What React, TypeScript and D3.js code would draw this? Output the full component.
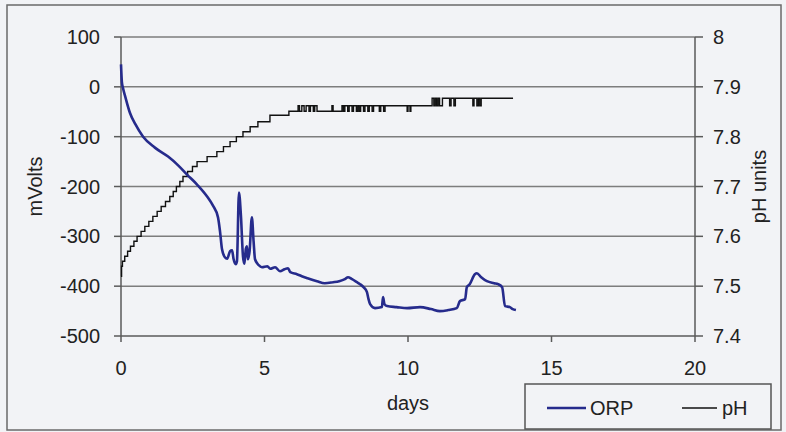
import * as d3 from 'd3';
import React from 'react';

// ORP readings (mV) against elapsed days
const orpDays = [
  0, 0.03, 0.06, 0.15, 0.31, 0.5, 0.77, 1.18, 1.64, 2.0, 2.3, 2.65, 3.0, 3.2, 3.38, 3.45, 3.52,
  3.62, 3.7, 3.8, 3.87, 3.92, 4.0, 4.04, 4.11, 4.18, 4.25, 4.3, 4.35, 4.39, 4.42, 4.48, 4.56,
  4.62, 4.67, 4.8, 4.91, 5.1, 5.2, 5.37, 5.54, 5.7, 5.82, 5.9, 6.13, 6.3, 6.5, 6.83, 7.1, 7.39,
  7.6, 7.8, 7.91, 8.05, 8.22, 8.33, 8.45, 8.57, 8.62, 8.68, 8.85, 9.09, 9.13, 9.18, 9.27, 9.6,
  9.97, 10.42, 10.8, 11.11, 11.4, 11.7, 11.81, 11.99, 12.05, 12.15, 12.33, 12.4, 12.55, 12.75,
  13.0, 13.14, 13.28, 13.38, 13.55, 13.65, 13.76,
];
const orpValues = [
  45, 10, 0, -20, -52, -75, -100, -122, -140, -158, -176, -196, -220, -238, -262, -290, -326,
  -342, -345, -330, -328, -345, -356, -350, -212, -260, -340, -355, -325, -320, -346, -330, -262,
  -310, -346, -358, -362, -360, -365, -362, -370, -366, -364, -372, -376, -380, -384, -390, -394,
  -392, -390, -386, -382, -386, -392, -396, -402, -412, -425, -436, -444, -442, -422, -436, -440,
  -442, -444, -442, -446, -450, -448, -444, -430, -426, -402, -396, -376, -374, -382, -390, -394,
  -396, -402, -440, -442, -446, -448,
];

// pH readings (stepped, 0.01 resolution)
const phDays = [
  0, 0.02, 0.05, 0.13, 0.23, 0.33, 0.45, 0.56, 0.7, 0.83, 0.97, 1.11, 1.26, 1.4, 1.55, 1.7, 1.82,
  1.93, 2.05, 2.16, 2.32, 2.49, 2.65, 3.0, 3.34, 3.57, 3.8, 4.02, 4.25, 4.5, 4.77, 5.19, 5.85,
  6.17, 6.22, 6.3, 6.38, 6.45, 6.55, 6.6, 6.7, 6.75, 6.83, 7.35, 7.39, 7.7, 7.75, 7.8, 7.9, 7.95,
  8.05, 8.1, 8.2, 8.25, 8.3, 8.35, 8.45, 8.5, 8.6, 8.65, 8.75, 8.8, 9.0, 9.05, 9.15, 9.2, 9.97,
  10.0, 10.07, 10.1, 10.84, 10.9, 10.95, 11.0, 11.05, 11.1, 11.2, 11.45, 11.5, 11.6, 11.65, 12.26,
  12.3, 12.4, 12.45, 12.5, 12.55, 13.66,
];
const phValues = [
  7.52, 7.54, 7.55, 7.56, 7.57, 7.58, 7.59, 7.6, 7.61, 7.62, 7.63, 7.64, 7.65, 7.66, 7.67, 7.68,
  7.69, 7.7, 7.71, 7.72, 7.73, 7.74, 7.75, 7.76, 7.77, 7.78, 7.79, 7.8, 7.81, 7.82, 7.83, 7.843,
  7.851, 7.862, 7.851, 7.862, 7.851, 7.862, 7.851, 7.862, 7.851, 7.862, 7.851, 7.862, 7.851,
  7.862, 7.851, 7.862, 7.851, 7.862, 7.851, 7.862, 7.851, 7.862, 7.851, 7.862, 7.851, 7.862,
  7.851, 7.862, 7.851, 7.862, 7.851, 7.862, 7.851, 7.862, 7.851, 7.862, 7.851, 7.862, 7.877,
  7.862, 7.877, 7.862, 7.877, 7.862, 7.877, 7.862, 7.877, 7.862, 7.877, 7.862, 7.877, 7.862,
  7.877, 7.862, 7.877, 7.877,
];

const xTicks = [0, 5, 10, 15, 20];
const leftTicks = [100, 0, -100, -200, -300, -400, -500];
const rightTicks = [8, 7.9, 7.8, 7.7, 7.6, 7.5, 7.4];

const W = 786;
const H = 432;
const plot = { left: 121, right: 695, top: 37, bottom: 336 };
const font = '"Liberation Sans", Arial, sans-serif';
const orpColor = '#262b8c';
const gridColor = '#7d7d7d';
const axisColor = '#5a5a5a';

export default function App() {
  const x = d3.scaleLinear().domain([0, 20]).range([plot.left, plot.right]);
  const yL = d3.scaleLinear().domain([-500, 100]).range([plot.bottom, plot.top]);
  const yR = d3.scaleLinear().domain([7.4, 8]).range([plot.bottom, plot.top]);

  const orpLine = d3
    .line<number>()
    .x((d) => x(d))
    .y((_, i) => yL(orpValues[i]))
    .curve(d3.curveMonotoneX);
  const phLine = d3
    .line<number>()
    .x((d) => x(d))
    .y((_, i) => yR(phValues[i]))
    .curve(d3.curveStepAfter);

  return (
    <svg
      width={W}
      height={H}
      style={{ position: 'absolute', left: 0, top: 0 }}
      fontFamily={font}
    >
      <rect x={0} y={0} width={W} height={H} fill="#f2f3f6" />
      <rect x={7} y={5} width={774} height={425} fill="none" stroke="#6a6a6a" strokeWidth={1.5} />

      {/* grid */}
      {leftTicks.map((t) => (
        <line
          key={`g${t}`}
          x1={plot.left}
          x2={plot.right}
          y1={yL(t)}
          y2={yL(t)}
          stroke={t === -500 ? axisColor : gridColor}
          strokeWidth={1.5}
        />
      ))}

      {/* axes */}
      <line x1={plot.left} x2={plot.left} y1={plot.top} y2={plot.bottom} stroke={axisColor} strokeWidth={1.5} />
      <line x1={plot.right} x2={plot.right} y1={plot.top} y2={plot.bottom} stroke={axisColor} strokeWidth={1.5} />

      {leftTicks.map((t) => (
        <g key={`l${t}`}>
          <line x1={plot.left - 7} x2={plot.left} y1={yL(t)} y2={yL(t)} stroke={axisColor} strokeWidth={1.5} />
          <text x={100} y={yL(t)} dy="0.35em" textAnchor="end" fontSize={20} fill="#222">
            {t}
          </text>
        </g>
      ))}
      {rightTicks.map((t) => (
        <g key={`r${t}`}>
          <line x1={plot.right} x2={plot.right + 8} y1={yR(t)} y2={yR(t)} stroke={axisColor} strokeWidth={1.5} />
          <text x={713} y={yR(t)} dy="0.35em" textAnchor="start" fontSize={20} fill="#222">
            {t}
          </text>
        </g>
      ))}
      {xTicks.map((t) => (
        <g key={`x${t}`}>
          <line x1={x(t)} x2={x(t)} y1={plot.bottom} y2={plot.bottom + 6} stroke={axisColor} strokeWidth={1.5} />
          <text x={x(t)} y={375} textAnchor="middle" fontSize={20} fill="#222">
            {t}
          </text>
        </g>
      ))}

      <text x={(plot.left + plot.right) / 2} y={410} textAnchor="middle" fontSize={20} fill="#222">
        days
      </text>
      <text
        transform={`translate(42, ${(plot.top + plot.bottom) / 2}) rotate(-90)`}
        textAnchor="middle"
        fontSize={20}
        fill="#222"
      >
        mVolts
      </text>
      <text
        transform={`translate(766, ${(plot.top + plot.bottom) / 2}) rotate(-90)`}
        textAnchor="middle"
        fontSize={20}
        fill="#222"
      >
        pH units
      </text>

      {/* series */}
      <path d={phLine(phDays) ?? ''} fill="none" stroke="#111" strokeWidth={1.4} />
      <path
        d={orpLine(orpDays) ?? ''}
        fill="none"
        stroke={orpColor}
        strokeWidth={2.6}
        strokeLinejoin="round"
      />

      {/* legend */}
      <rect x={525} y={384} width={246} height={45} fill="#f2f3f6" stroke="#555" strokeWidth={1.5} />
      <line x1={547} x2={586} y1={408} y2={408} stroke={orpColor} strokeWidth={2.6} />
      <text x={590} y={415} fontSize={20} fill="#222">
        ORP
      </text>
      <line x1={682} x2={717} y1={408} y2={408} stroke="#111" strokeWidth={1.4} />
      <text x={722} y={415} fontSize={20} fill="#222">
        pH
      </text>
    </svg>
  );
}
